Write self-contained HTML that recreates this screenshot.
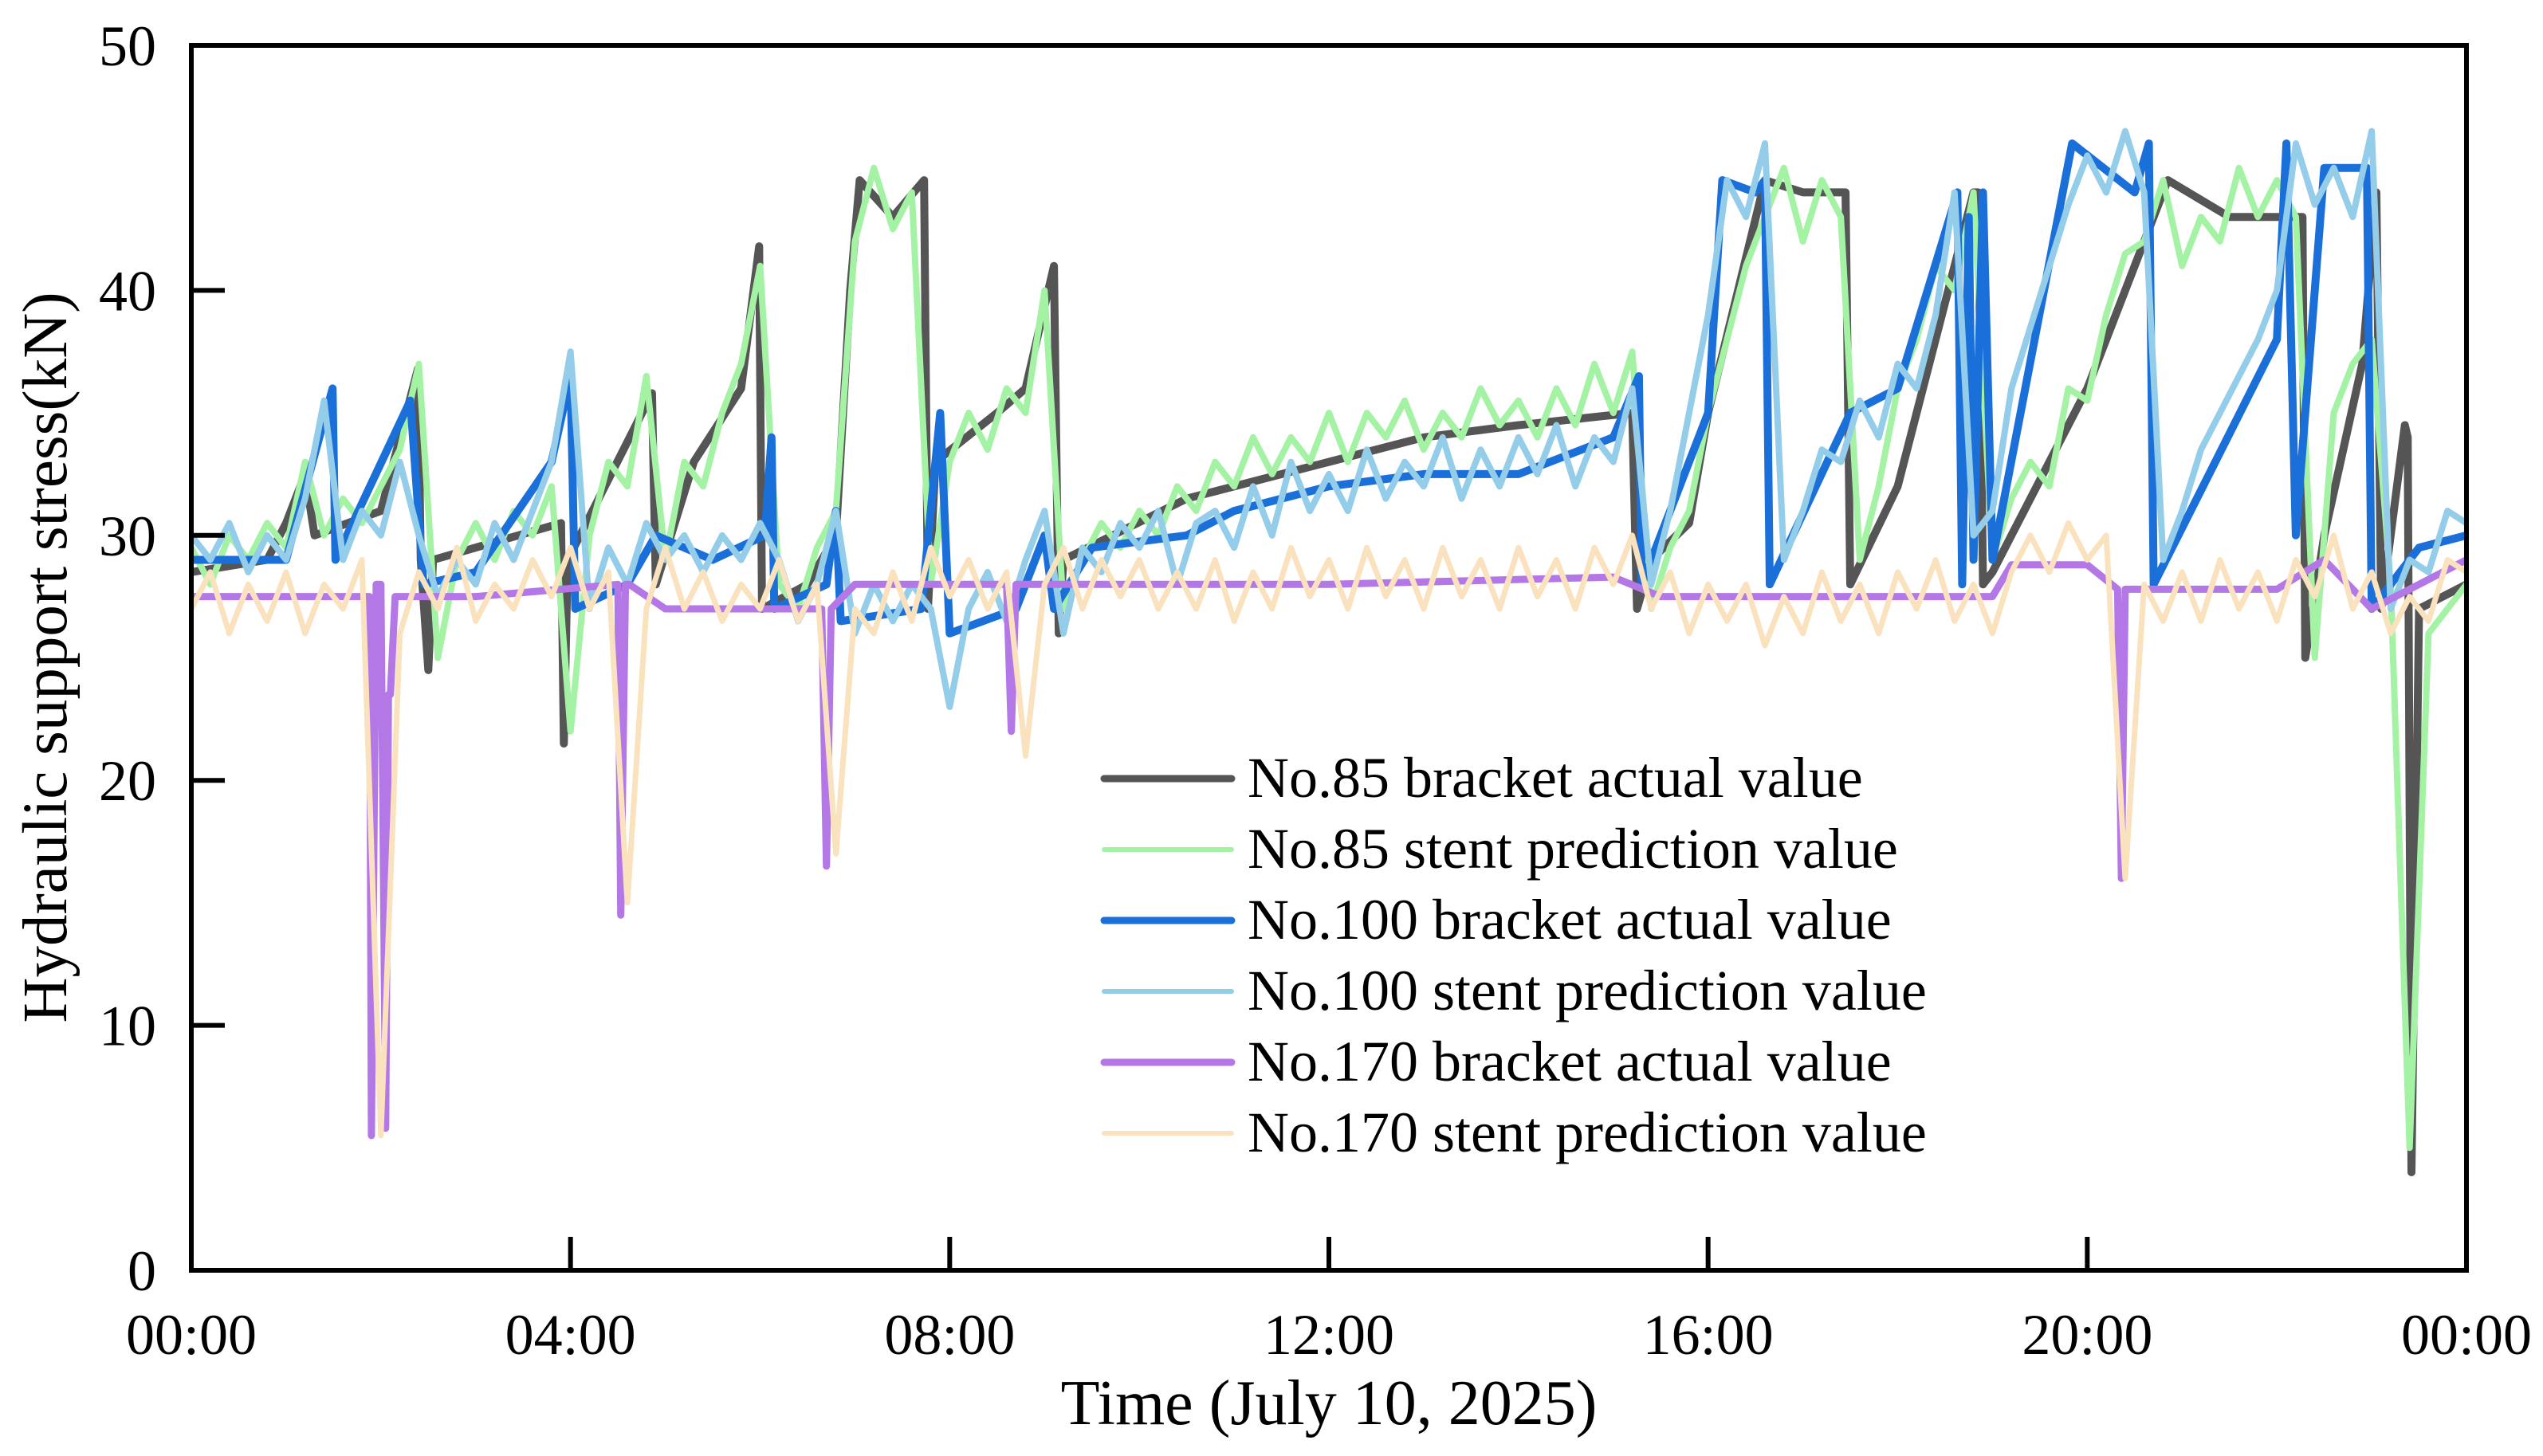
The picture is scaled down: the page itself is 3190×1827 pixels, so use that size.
<!DOCTYPE html>
<html><head><meta charset="utf-8"><style>
html,body{margin:0;padding:0;background:#fff;}
svg{display:block;font-family:"Liberation Serif",serif;}
</style></head><body>
<svg id="chart" width="3190" height="1827" viewBox="0 0 3190 1827" xmlns="http://www.w3.org/2000/svg">
<g id="series"></g>
<g id="axes"></g>
<g id="legend"></g>
</svg>
<script>
// ---- data ----
const yTicks = [0, 10, 20, 30, 40, 50];
const xTickLabels = ["00:00","04:00","08:00","12:00","16:00","20:00","00:00"];
const xTickHours = [0, 4, 8, 12, 16, 20, 24];

const s85ActualT = [0,0.8,1.0,1.2,1.3,2.0,2.39,2.42,2.5,2.55,3.9,3.93,3.97,4.86,4.9,5.3,5.8,5.99,6.02,6.5,6.8,6.95,7.05,7.4,7.73,7.77,7.85,8.5,8.8,9.1,9.15,9.2,10.5,12,13,14,15.2,15.25,15.4,15.8,16.0,16.6,17.0,17.45,17.5,18.0,18.8,18.85,18.9,19.0,20.0,20.85,21.5,22.27,22.3,22.5,22.9,23.05,23.1,23.35,23.38,23.42,23.5,24];
const s85ActualV = [28.5,29,30.5,32.5,30,31,36.8,29,24.5,29,30.5,21.5,29,35.8,28,33,36,41.8,27,28,30,40,44.5,43,44.5,27,33,35,36,41,26,29,31.5,33,34,34.5,35,27,29,30.5,35,44.5,44,44,28,32,44,44,28,28.5,36,44.5,43,43,25,30,37,44,27,34.5,34,4,27,28];

const s85Pred = [29.5,28,30,29,30.5,29.5,33,30,31.5,30.5,32,33.5,37,25,29,30.5,29,31,30,32,22,30,33,32,36.5,29,33,32,35,37,41,28,27,29.5,31,42,45,42.5,44,28,33,35,33.5,36,35,40,27,29,30.5,29.5,31,30,32,31,33,32,34,32.5,34,33,35,33,35,34,35.5,33.5,35,34,36,34.5,35.5,34,36,34.5,37,35,37.5,27,29.5,31,35,38,41,43,45,42,44.5,43,29,32,36,38,41,40,44,29,31.5,33,32,36,35.5,39,41.5,42,44.5,41,43,42,45,43,44.5,43,25,35,37,38,28,5,26,27,28];

const s100ActualT = [0,1.0,1.49,1.52,2.31,2.45,3.0,3.8,4.0,4.05,4.6,4.9,5.5,6.05,6.12,6.15,6.7,6.8,6.85,7.7,7.9,8.0,8.7,9.0,9.1,9.5,10.5,11,12,13,14,15,15.27,15.3,16.0,16.15,16.5,16.6,16.65,17.5,18.0,18.63,18.68,18.75,18.8,18.9,19.0,19.84,20.5,20.65,20.7,22.0,22.1,22.2,22.5,22.95,23.0,23.5,24];
const s100ActualV = [29,29,36,29,35.5,28,28.5,33,36.5,27,28,30,29,30,34,27,28,31,26.5,27,35,26,27,30,27,29.5,30,31,32,32.5,32.5,34,36.5,28,35,44.5,44,44.5,28,35,36,44,28,43,29,44,29,46,44,46,28,38,46,30,45,45,27,29.5,30];

const s100Pred = [30,29,30.5,28.5,30,29,31.5,35.5,29,31,30,33,30,27.5,29,28,30.5,29,31,33,37.5,27,29.5,28,30.5,29,30,28.5,30,29,30.5,29,26.5,28,31,26,28,26.5,28,27,23,27,28.5,26.5,29,31,26,29.5,28.5,30.5,29.5,31,28,30.5,31,29.5,32,30,33,31,32.5,31,33.5,31.5,33,32,34,31.5,33.5,32,34,32.5,34.5,32,34,33,36,28,31,35,39,44.5,43,46,29,31,33.5,33,35.5,34,37,36,39,44,30,31,36,38.5,41,43.5,45.5,44,46.5,44,29,31,33.5,35,36.5,38,40,46,43.5,45,43,46.5,27,29,28.5,31,30.5];

const s170ActualT = [0,1.88,1.9,1.95,2.0,2.05,2.08,2.1,2.15,3,4.5,4.53,4.58,4.62,5,6.65,6.7,6.75,7,8.6,8.65,8.7,9,12,15,15.5,19,19.2,20,20.32,20.36,20.4,22,22.5,23,24];
const s170ActualV = [27.5,27.5,5.5,28,28,5.8,23.5,23.5,27.5,27.5,28,14.5,28,28,27,27,16.5,27,28,28,22,28,28,28,28.3,27.5,27.5,28.8,28.8,27.8,16,27.8,27.8,29,27,29];

const s170Pred = [27,28.5,26,28,26.5,28.5,26,28,27,29,5.5,26,28.5,27,29.5,26.5,28,27,29,27.5,29.5,27,28.5,15,27,29.5,27,28.5,26.5,28,27,29,26.5,28,17,27,26,28.5,26.5,29.5,27.5,29,27,28.5,21,28,29.5,27,29,27.5,29,27,28.5,27,29,26.5,28.5,27,29.5,27.5,29,27,29.5,27.5,29,27,29.5,27.5,29,27,29.5,27.5,29,27,29.5,28,30,27,28.5,26,28,26.5,28,25.5,27.5,26,28.5,26.5,28,26,28.5,27,29,26.5,28,26,28.5,30,28.5,30.5,29,30,16,28,26.5,28.5,26.5,29,27,28.5,26.5,29,27.5,30,27,28.5,26,27.5,26.5,29,28.5];

const legendLabels = ["No.85 bracket actual value","No.85 stent prediction value","No.100 bracket actual value","No.100 stent prediction value","No.170 bracket actual value","No.170 stent prediction value"];

// ---- layout ----
const L = 240, R = 3094, T = 57, B = 1594;
const NS = "http://www.w3.org/2000/svg";
const xScale = h => L + (h / 24) * (R - L);
const yScale = v => B - (v / 50) * (B - T);

function mk(tag, attrs, parent) {
  const e = document.createElementNS(NS, tag);
  for (const k in attrs) e.setAttribute(k, attrs[k]);
  parent.appendChild(e);
  return e;
}
function pathFromTV(ts, vs) {
  return ts.map((t, i) => (i ? "L" : "M") + xScale(t).toFixed(1) + "," + yScale(vs[i]).toFixed(1)).join("");
}
function pathFromSeries(vs) {
  const step = 24 / (vs.length - 1);
  return vs.map((v, i) => (i ? "L" : "M") + xScale(i * step).toFixed(1) + "," + yScale(v).toFixed(1)).join("");
}

const gS = document.getElementById("series");
const clip = mk("clipPath", {id: "plotclip"}, gS);
mk("rect", {x: L, y: T, width: R - L, height: B - T}, clip);
gS.setAttribute("clip-path", "url(#plotclip)");

const colors = ["#555555", "#a4f2a4", "#1b6fd9", "#93cdea", "#b377e6", "#f9e2bd"];
const widths = [10, 8, 10, 8, 9, 7];
const defs = [
  ["no85-actual-line", pathFromTV(s85ActualT, s85ActualV)],
  ["no85-prediction-line", pathFromSeries(s85Pred)],
  ["no100-actual-line", pathFromTV(s100ActualT, s100ActualV)],
  ["no100-prediction-line", pathFromSeries(s100Pred)],
  ["no170-actual-line", pathFromTV(s170ActualT, s170ActualV)],
  ["no170-prediction-line", pathFromSeries(s170Pred)]
];
defs.forEach((d, i) => {
  const p = mk("path", {d: d[1], fill: "none", stroke: colors[i], "stroke-width": widths[i], "stroke-linejoin": "round", "stroke-linecap": "round"}, gS);
  
  
});

// ---- axes ----
const gA = document.getElementById("axes");
const frame = mk("rect", {x: L, y: T, width: R - L, height: B - T, fill: "none", stroke: "#000", "stroke-width": 6}, gA);



yTicks.forEach(v => {
  const y = yScale(v);
  const tk = mk("line", {x1: L, x2: L + 42, y1: y, y2: y, stroke: "#000", "stroke-width": 6}, gA);
  
  
  const tx = mk("text", {x: 196, y: y + 25, "text-anchor": "end", "font-size": 72, fill: "#000"}, gA);
  tx.textContent = v;
  
  
});
xTickHours.forEach((h, i) => {
  const x = xScale(h);
  const tk = mk("line", {x1: x, x2: x, y1: B, y2: B - 42, stroke: "#000", "stroke-width": 6}, gA);
  
  
  const tx = mk("text", {x: x, y: 1699, "text-anchor": "middle", "font-size": 72, fill: "#000"}, gA);
  tx.textContent = xTickLabels[i];
  
  
});
const xt = mk("text", {x: 1667, y: 1787, "text-anchor": "middle", "font-size": 80, fill: "#000"}, gA);
xt.textContent = "Time (July 10, 2025)";


const yt = mk("text", {x: 0, y: 0, "text-anchor": "middle", "font-size": 79, fill: "#000", transform: "translate(83,825) rotate(-90)"}, gA);
yt.textContent = "Hydraulic support stress(kN)";



// ---- legend ----
const gL = document.getElementById("legend");
const legendY0 = 977, legendDY = 89;
legendLabels.forEach((lab, i) => {
  const y = legendY0 + i * legendDY;
  const ln = mk("line", {x1: 1385, x2: 1545, y1: y, y2: y, stroke: colors[i], "stroke-width": i % 2 === 0 ? 9 : 6, "stroke-linecap": "round"}, gL);
  
  
  const tx = mk("text", {x: 1565, y: y + 23, "font-size": 72, fill: "#000"}, gL);
  tx.textContent = lab;
  
  
});
</script>
</body></html>
